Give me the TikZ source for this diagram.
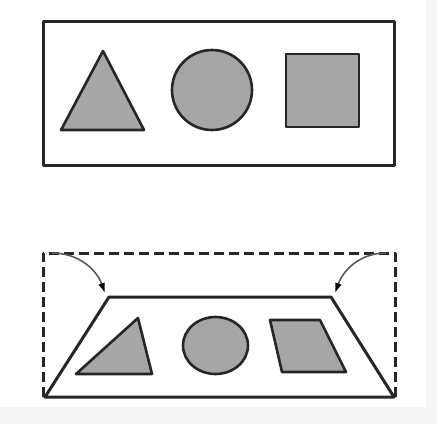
\documentclass[tikz,border=0pt]{standalone}
\usepackage{tikz}
\usetikzlibrary{arrows.meta}

\begin{document}
\begin{tikzpicture}[x=1pt,y=-1pt,line join=round,
            panel/.style={draw=black!85,line width=3pt},
            grayfig/.style={draw=black!85,fill=gray!70,line width=2.6pt},
            dashbox/.style={draw=black!85,line width=3pt,dash pattern=on 10pt off 5pt},
            curlarrow/.style={-{Latex[length=10pt,width=7pt,black]},draw=black!65,line width=1.6pt}]

          \useasboundingbox (0,0) rectangle (437,424);
          \fill[white] (0,0) rectangle (437,424);
          \fill[black!4] (426,0) rectangle (437,424);
          \fill[black!4] (0,407) rectangle (437,424);

          % upper panel: the shapes seen straight on
          \draw[panel] (43,21) rectangle (394,165);
          \draw[grayfig] (103,51) -- (144,130) -- (61,130) -- cycle;
          \draw[grayfig] (212,90) circle (40);
          \draw[grayfig] (286,54) rectangle (359,127);

          % lower panel: the same shapes in perspective
          \coordinate (boxTL) at ( 43,253);
          \coordinate (boxTR) at (395,253);
          \coordinate (trapTL) at (109,297);
          \coordinate (trapTR) at (331,297);
          \coordinate (trapBL) at ( 45,397);
          \coordinate (trapBR) at (394,397);

          \draw[dashbox] (43,397) -- (boxTL) -- (boxTR) -- (395,397);
          \draw[panel] (trapBL) -- (trapTL) -- (trapTR) -- (trapBR) -- cycle;

          \draw[grayfig] (138,318) -- (152,374) -- (76,374) -- cycle;
          \draw[grayfig] (215.5,345.5) ellipse (32.5 and 28.5);
          \draw[grayfig] (270,320) -- (320,320) -- (346,372) -- (282,372) -- cycle;

          \draw[curlarrow] ([xshift=9pt]boxTL) to[out=0,in=110]  ([xshift=-4pt,yshift=4pt]trapTL);
          \draw[curlarrow] ([xshift=-9pt]boxTR) to[out=180,in=70] ([xshift=4pt,yshift=4pt]trapTR);
        \end{tikzpicture}
\end{document}
